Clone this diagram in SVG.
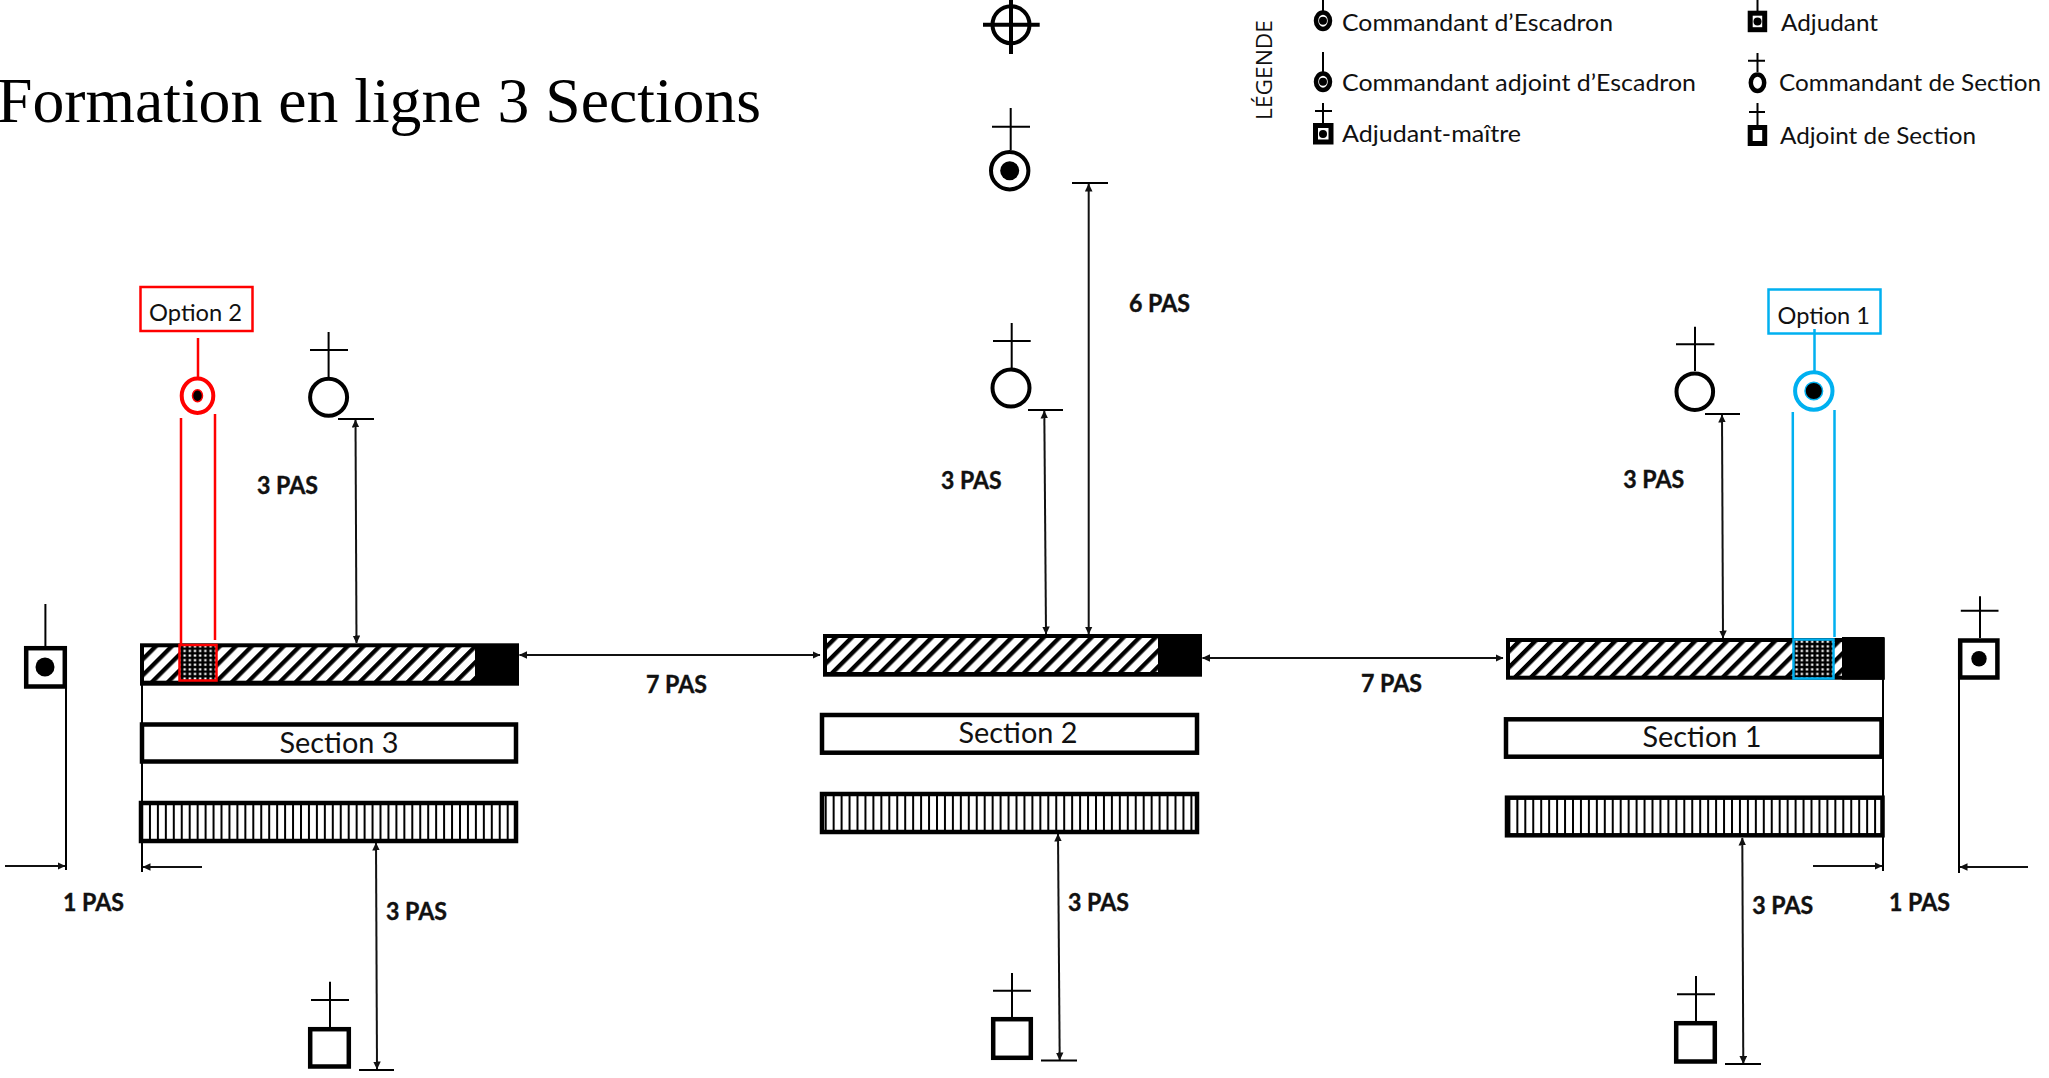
<svg xmlns="http://www.w3.org/2000/svg" width="2049" height="1078" viewBox="0 0 2049 1078">
<style>
.b{font-family:"Lato","Open Sans","Liberation Sans",sans-serif;font-weight:700;font-size:24.5px;fill:#111;stroke:#111;stroke-width:.4}
.r{font-family:"Lato","Open Sans","Liberation Sans",sans-serif;font-size:24px;fill:#111}
.s{font-family:"Lato","Open Sans","Liberation Sans",sans-serif;font-size:29px;fill:#111}
.k{stroke:#000;stroke-width:2;fill:none}
.o{stroke:#000;stroke-width:4.5;fill:#fff}
.d{fill:#000}
.a{stroke:#111;stroke-width:2;fill:none;marker-end:url(#ah)}
.aa{stroke:#111;stroke-width:2;fill:none;marker-end:url(#ah);marker-start:url(#ah)}
.red{stroke:#f00;fill:none;stroke-width:2.5}
.cy{stroke:#00b0f0;fill:none;stroke-width:2.5}
</style>
<defs>
<marker id="ah" markerUnits="userSpaceOnUse" markerWidth="8" markerHeight="8" refX="7.5" refY="4" orient="auto-start-reverse"><path d="M0,0.2 L8,4 L0,7.8 Z" fill="#111"/></marker>
<pattern id="hatch" patternUnits="userSpaceOnUse" width="11.3" height="11.3" patternTransform="rotate(45)"><rect width="11.3" height="11.3" fill="#fff"/><rect width="4.3" height="11.3" fill="#000"/></pattern>
<pattern id="vs" patternUnits="userSpaceOnUse" width="7.95" height="10" x="141"><rect width="7.95" height="10" fill="#fff"/><rect width="2" height="10" fill="#000"/></pattern>
<pattern id="dots" patternUnits="userSpaceOnUse" width="5.2" height="4.6"><rect width="5.2" height="4.6" fill="#000"/><rect x="1.4" y="1.3" width="2.4" height="2.1" fill="#fff"/></pattern>
</defs>
<rect width="2049" height="1078" fill="#fff"/>

<text id="title" x="-3" y="122" font-family="Liberation Serif, serif" font-size="63" fill="#000" textLength="764" lengthAdjust="spacingAndGlyphs">Formation en ligne 3 Sections</text>

<g id="legend">
<text class="r" transform="translate(1272,120) rotate(-90)" textLength="100" lengthAdjust="spacingAndGlyphs" style="font-family:'Open Sans',sans-serif;font-size:21px">LÉGENDE</text>
<g id="leg-cmd-esc"><line class="k" x1="1323" y1="0" x2="1323" y2="11"/><ellipse cx="1323" cy="20.7" rx="7" ry="8.2" fill="#fff" stroke="#000" stroke-width="4.5"/><circle cx="1323" cy="20.7" r="4" fill="#000"/><text class="r" x="1342" y="31" textLength="271" lengthAdjust="spacingAndGlyphs">Commandant d’Escadron</text></g>
<g id="leg-cmd-adj"><line class="k" x1="1323" y1="52" x2="1323" y2="72"/><ellipse cx="1323" cy="81.7" rx="7" ry="8.2" fill="#fff" stroke="#000" stroke-width="4.5"/><circle cx="1323" cy="81.7" r="4" fill="#000"/><text class="r" x="1342" y="91" textLength="354" lengthAdjust="spacingAndGlyphs">Commandant adjoint d’Escadron</text></g>
<g id="leg-adj-maitre"><path class="k" d="M1323,103V123M1315,111H1332"/><rect x="1315.5" y="125.5" width="15.5" height="16.5" fill="#fff" stroke="#000" stroke-width="5"/><circle cx="1323" cy="134" r="4" fill="#000"/><text class="r" x="1342" y="142" textLength="179" lengthAdjust="spacingAndGlyphs">Adjudant-maître</text></g>
<g id="leg-adj"><line class="k" x1="1757.5" y1="0" x2="1757.5" y2="11"/><rect x="1750.2" y="13.2" width="14.5" height="16.5" fill="#fff" stroke="#000" stroke-width="5"/><circle cx="1757.5" cy="21.5" r="4" fill="#000"/><text class="r" x="1781" y="31" textLength="97" lengthAdjust="spacingAndGlyphs">Adjudant</text></g>
<g id="leg-cmd-sec"><path class="k" d="M1757.5,53V72M1748,60.7H1765"/><ellipse cx="1757.5" cy="82.7" rx="6.7" ry="8.2" fill="#fff" stroke="#000" stroke-width="4.5"/><text class="r" x="1779" y="91" textLength="262" lengthAdjust="spacingAndGlyphs">Commandant de Section</text></g>
<g id="leg-adj-sec"><path class="k" d="M1757.5,103V125M1749,112H1765"/><rect x="1750.2" y="127.5" width="14.5" height="16" fill="#fff" stroke="#000" stroke-width="5"/><text class="r" x="1780" y="144" textLength="196" lengthAdjust="spacingAndGlyphs">Adjoint de Section</text></g>
</g>

<g id="connectors">
<line class="aa" x1="355.5" y1="420" x2="356.5" y2="643"/>
<path class="k" d="M338,419H374"/>
<line class="aa" x1="1044.3" y1="411" x2="1046" y2="634"/>
<path class="k" d="M1028,410H1063"/>
<line class="aa" x1="1088.7" y1="184" x2="1088.7" y2="634"/>
<path class="k" d="M1072,183H1108"/>
<line class="aa" x1="1722" y1="415" x2="1723" y2="638"/>
<path class="k" d="M1705,414H1740"/>
<line class="aa" x1="376" y1="843" x2="377" y2="1069"/>
<path class="k" d="M359,1070H394"/>
<line class="aa" x1="1058" y1="834" x2="1059.7" y2="1060"/>
<path class="k" d="M1041,1060.5H1077"/>
<line class="aa" x1="1742.3" y1="838" x2="1743.3" y2="1063.5"/>
<path class="k" d="M1725,1064H1761"/>
<line class="aa" x1="519.5" y1="655" x2="820" y2="655"/>
<line class="aa" x1="1202.5" y1="658" x2="1503" y2="658"/>
<line class="a" x1="5" y1="866" x2="65" y2="866"/>
<line class="a" x1="202" y1="867" x2="143" y2="867"/>
<line class="a" x1="1813" y1="866" x2="1882" y2="866"/>
<line class="a" x1="2028" y1="867" x2="1960" y2="867"/>
<path class="k" d="M66,688V870M142,685V872M1883,679V871M1959,679V873"/>
</g>

<g id="section-3">
<rect class="d" x="140" y="643.3" width="379" height="42.4"/>
<rect x="144" y="647.3" width="331" height="33.4" fill="url(#hatch)"/>
<rect class="o" x="142" y="724.5" width="374" height="37"/>
<text class="s" x="339" y="753" text-anchor="middle" textLength="119" lengthAdjust="spacingAndGlyphs">Section 3</text>
<rect x="141" y="803" width="375" height="38" fill="url(#vs)" stroke="#000" stroke-width="4.5"/>
</g>
<g id="section-2">
<rect class="d" x="823" y="634" width="379" height="42.7"/>
<rect x="827" y="638" width="331" height="34" fill="url(#hatch)"/>
<rect class="o" x="822" y="715" width="375" height="37.7"/>
<text class="s" x="1018" y="743" text-anchor="middle" textLength="119" lengthAdjust="spacingAndGlyphs">Section 2</text>
<rect x="822" y="794" width="375" height="38" fill="url(#vs)" stroke="#000" stroke-width="4.5"/>
</g>
<g id="section-1">
<rect class="d" x="1506" y="638" width="378.6" height="41.7"/>
<rect x="1510" y="642" width="332" height="33.7" fill="url(#hatch)"/>
<rect class="d" x="1842" y="637" width="42.6" height="42.7"/>
<rect class="o" x="1506" y="719.3" width="375.5" height="37.4"/>
<text class="s" x="1702" y="747" text-anchor="middle" textLength="119" lengthAdjust="spacingAndGlyphs">Section 1</text>
<rect x="1507" y="797.7" width="375.5" height="37.6" fill="url(#vs)" stroke="#000" stroke-width="4.5"/>
</g>

<g id="option-2">
<rect class="red" x="140.5" y="287" width="112" height="44" fill="#fff"/>
<text class="r" x="149" y="321" textLength="93" lengthAdjust="spacingAndGlyphs">Option 2</text>
<path class="red" d="M198,338V377M181,418V644M215,414V640"/>
<ellipse cx="197.5" cy="395.7" rx="15.8" ry="17.2" fill="#fff" stroke="#f00" stroke-width="4"/>
<ellipse cx="197.5" cy="395.7" rx="5" ry="6" fill="#000" stroke="#f00" stroke-width="1.5"/>
<rect x="179.5" y="645" width="37" height="35.5" fill="url(#dots)" stroke="#f00" stroke-width="2.5"/>
</g>
<g id="option-1">
<rect class="cy" x="1768.5" y="289.5" width="112" height="44" fill="#fff"/>
<text class="r" x="1777.5" y="324" textLength="92.5" lengthAdjust="spacingAndGlyphs">Option 1</text>
<path class="cy" d="M1814.5,329V372M1792.8,412V638M1834.5,410V637"/>
<circle cx="1813.8" cy="391" r="18.7" fill="#fff" stroke="#00b0f0" stroke-width="4"/>
<circle cx="1813.8" cy="391" r="8.8" fill="#000" stroke="#00b0f0" stroke-width="1.5"/>
<rect x="1793.5" y="639.5" width="40" height="39" fill="url(#dots)" stroke="#00b0f0" stroke-width="2.5"/>
</g>

<g id="capitaine"><circle cx="1011" cy="24.7" r="18.5" fill="none" stroke="#000" stroke-width="4"/><path d="M983,24.7H1039.7M1011,0V54" stroke="#000" stroke-width="4" fill="none"/></g>
<g id="adjoint-esc"><path class="k" d="M1010.7,108V150M992,126.7H1030"/><circle cx="1009.7" cy="170.7" r="18.7" fill="#fff" stroke="#000" stroke-width="4"/><circle cx="1009.7" cy="170.7" r="9.5" fill="#000"/></g>
<g id="cmd-sec-2"><path class="k" d="M1011.7,323V368M993,341H1030.7"/><circle cx="1011" cy="388" r="18.5" fill="#fff" stroke="#000" stroke-width="4"/></g>
<g id="cmd-sec-3"><path class="k" d="M328.6,332V377M310,350H348"/><circle cx="328.6" cy="397.3" r="18.5" fill="#fff" stroke="#000" stroke-width="4"/></g>
<g id="cmd-sec-1"><path class="k" d="M1695,326.7V371M1676,344.3H1714.4"/><circle cx="1694.8" cy="391.7" r="18.3" fill="#fff" stroke="#000" stroke-width="4"/></g>
<g id="adj-sec-3"><path class="k" d="M330,981.7V1027M311,1000H349"/><rect class="o" x="310.2" y="1029.2" width="38.6" height="37.3"/></g>
<g id="adj-sec-2"><path class="k" d="M1012,973V1017M993,990.7H1031"/><rect class="o" x="993.2" y="1019.2" width="37.6" height="38.6"/></g>
<g id="adj-sec-1"><path class="k" d="M1696,976V1021M1677,994.3H1715"/><rect class="o" x="1676.2" y="1023.2" width="38.6" height="38.3"/></g>
<g id="adjudant-g"><line class="k" x1="45.4" y1="604" x2="45.4" y2="646"/><rect class="o" x="26.2" y="648.2" width="38.6" height="38.3"/><circle cx="45" cy="667" r="9.5" fill="#000"/></g>
<g id="adj-maitre-d"><path class="k" d="M1980,596.3V638M1960.8,610.7H1998.5"/><rect class="o" x="1960.2" y="640.5" width="37.2" height="37"/><circle cx="1979" cy="658.7" r="7.7" fill="#000"/></g>

<g id="labels">
<text class="b" x="257" y="494" textLength="61" lengthAdjust="spacingAndGlyphs">3 PAS</text>
<text class="b" x="941" y="489" textLength="60.5" lengthAdjust="spacingAndGlyphs">3 PAS</text>
<text class="b" x="1129" y="312" textLength="61" lengthAdjust="spacingAndGlyphs">6 PAS</text>
<text class="b" x="1623.3" y="487.7" textLength="61" lengthAdjust="spacingAndGlyphs">3 PAS</text>
<text class="b" x="646" y="693" textLength="61" lengthAdjust="spacingAndGlyphs">7 PAS</text>
<text class="b" x="1361" y="691.7" textLength="61" lengthAdjust="spacingAndGlyphs">7 PAS</text>
<text class="b" x="63" y="911" textLength="61" lengthAdjust="spacingAndGlyphs">1 PAS</text>
<text class="b" x="386" y="920" textLength="61" lengthAdjust="spacingAndGlyphs">3 PAS</text>
<text class="b" x="1068" y="911" textLength="61" lengthAdjust="spacingAndGlyphs">3 PAS</text>
<text class="b" x="1752.3" y="914" textLength="61" lengthAdjust="spacingAndGlyphs">3 PAS</text>
<text class="b" x="1889" y="911" textLength="61" lengthAdjust="spacingAndGlyphs">1 PAS</text>
</g>
</svg>
